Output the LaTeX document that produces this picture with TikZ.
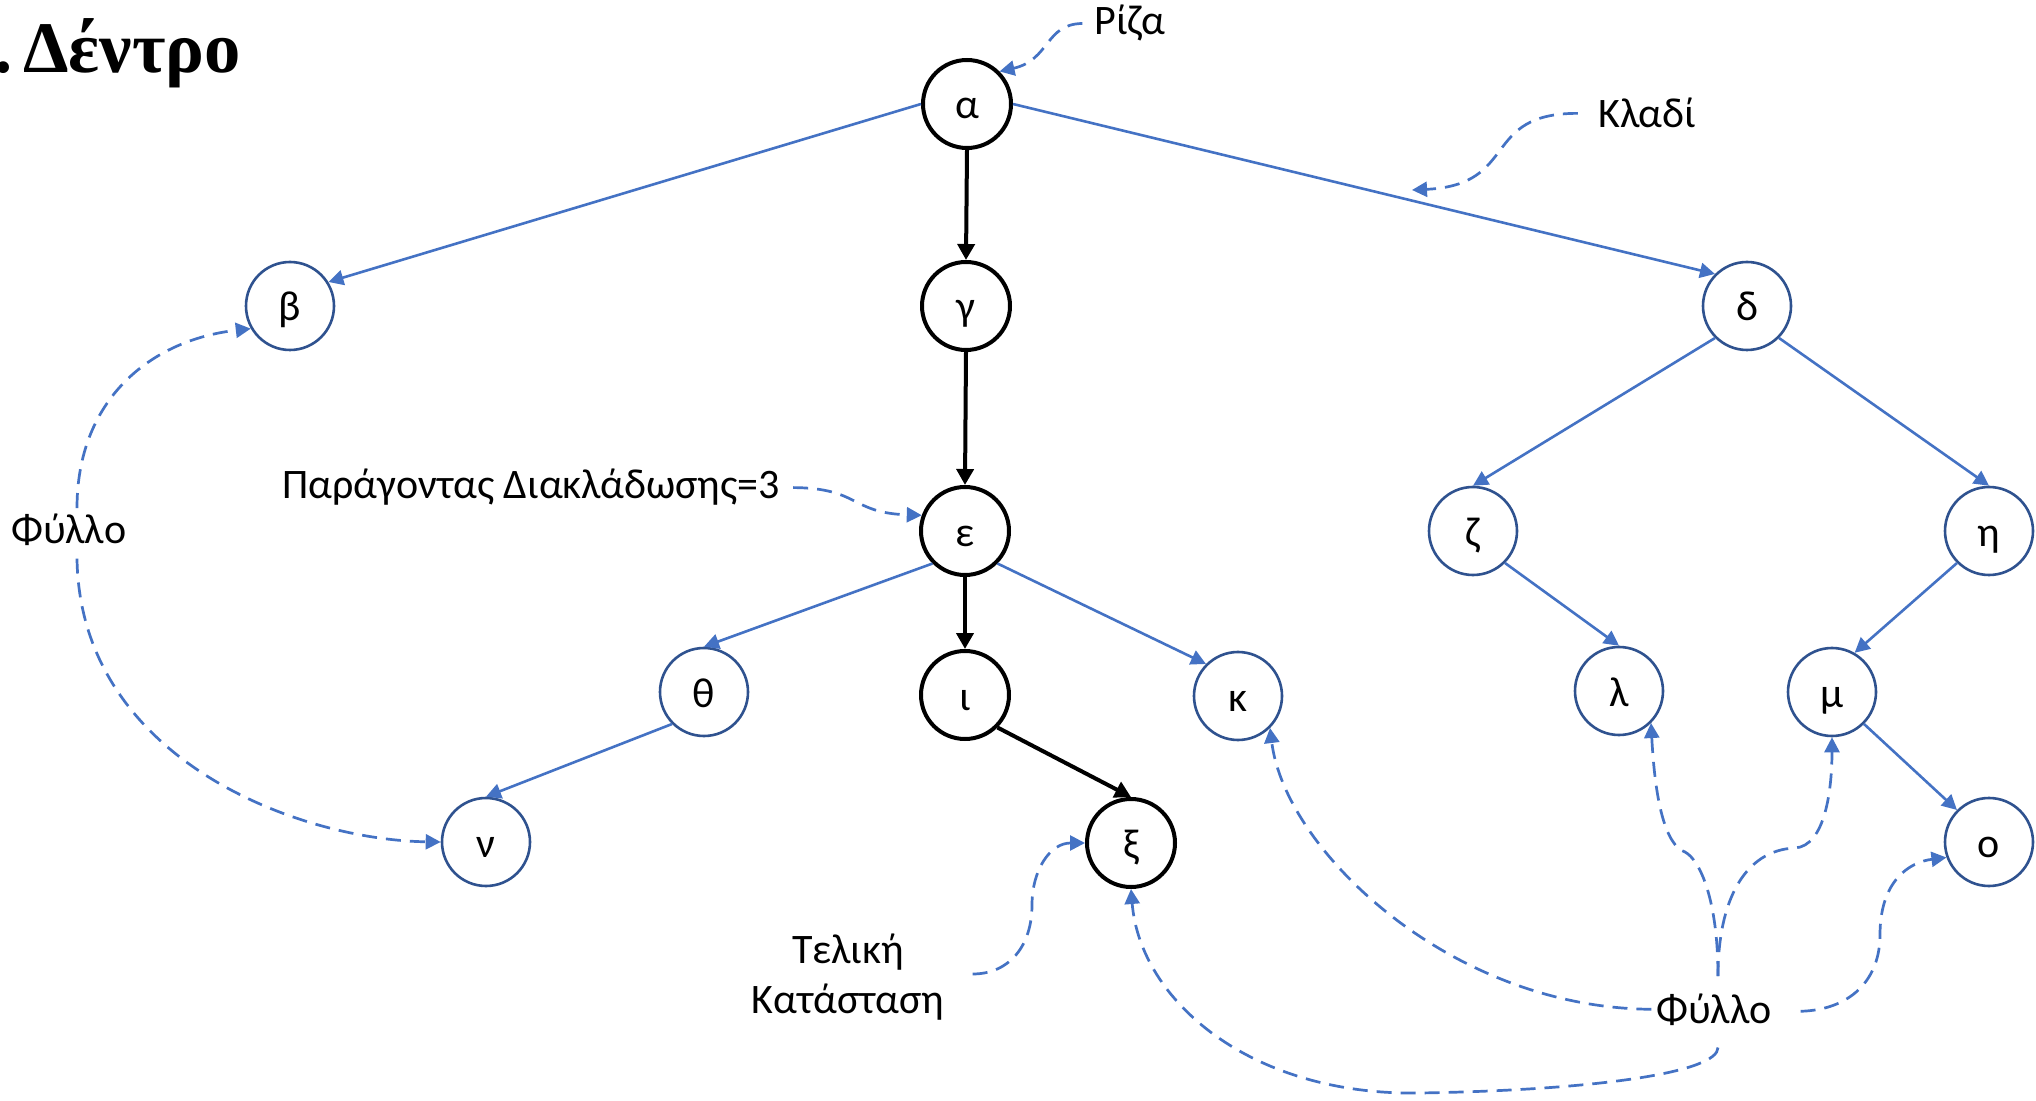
\documentclass[tikz,border=0pt]{standalone}
\usepackage{fontspec}
\setmainfont{Carlito}
\newfontfamily\titlefont{Liberation Serif}
\usetikzlibrary{arrows.meta,calc}
\definecolor{edgeblue}{HTML}{4472C4}
\definecolor{ringblue}{HTML}{2F528F}

\begin{document}
\begin{tikzpicture}[x=0.5pt,y=-0.5pt,
  every node/.style={font=\fontsize{21pt}{25.2pt}\selectfont},
  vertex/.style={circle, draw=ringblue, line width=1.3pt, minimum size=44pt,
    inner sep=0pt, text height=15pt, text depth=0pt},
  pathvertex/.style={vertex, draw=black, line width=2pt},
  branch/.style={draw=edgeblue, line width=1.3pt, -{Triangle[length=7.5pt,width=7.5pt]}},
  pathbranch/.style={draw=black, line width=2pt, -{Triangle[length=8pt,width=8.5pt]}},
  notearrow/.style={draw=edgeblue, line width=1.35pt, dash pattern=on 7.5pt off 4.5pt,
    -{Triangle[length=7.5pt,width=7.5pt]}},
  notetext/.style={inner sep=0pt, anchor=base},
]
% canvas
\fill[white] (0,0) rectangle (2036,1101);
\useasboundingbox (0,0) rectangle (2036,1101);

% heading
\node[inner sep=0pt, anchor=base west,
      font=\titlefont\bfseries\fontsize{36.3pt}{42pt}\selectfont] (title) at (23,73)
      {\llap{.\kern0.15em}Δέντρο};

% tree nodes
\node[pathvertex] (alpha)   at (967,104)  {α};
\node[vertex]     (beta)    at (290,306)  {β};
\node[pathvertex] (gamma)   at (966,306)  {γ};
\node[vertex]     (delta)   at (1747,306) {δ};
\node[pathvertex] (eps)     at (965,531)  {ε};
\node[vertex]     (zeta)    at (1473,531) {ζ};
\node[vertex]     (eta)     at (1989,531) {η};
\node[vertex]     (theta)   at (704,692)  {θ};
\node[pathvertex] (iota)    at (965,695)  {ι};
\node[vertex]     (kappa)   at (1238,696) {κ};
\node[vertex]     (lambda)  at (1619,691) {λ};
\node[vertex]     (mu)      at (1832,692) {μ};
\node[vertex]     (nu)      at (486,842)  {ν};
\node[pathvertex] (xi)      at (1131,843) {ξ};
\node[vertex]     (omicron) at (1989,842) {ο};

% branches
\draw[branch]     (alpha.west)       -- (beta.32);
\draw[pathbranch] (alpha.south)      -- (gamma.north);
\draw[branch]     (alpha.east)       -- (delta.north west);
\draw[pathbranch] (gamma.south)      -- (eps.north);
\draw[branch]     (delta.south west) -- (zeta.north);
\draw[branch]     (delta.south east) -- (eta.north);
\draw[branch]     (eps.south west)   -- (theta.north);
\draw[pathbranch] (eps.south)        -- (iota.north);
\draw[branch]     (eps.south east)   -- (kappa.north west);
\draw[branch]     (zeta.south east)  -- (lambda.north);
\draw[branch]     (eta.south west)   -- (mu.60);
\draw[branch]     (theta.south west) -- (nu.north);
\draw[pathbranch] (iota.south east)  -- (xi.north);
\draw[branch]     (mu.south east)    -- (omicron.north west);

% annotations
\node[notetext] (riza)   at (1130,35)  {Ρίζα};
\node[notetext] (kladi)  at (1647,128) {Κλαδί};
\node[notetext] (factor) at (531,499)  {Παράγοντας Διακλάδωσης=3};
\node[inner sep=0pt, align=center] (goal) at (848,977) {Τελική\\Κατάσταση};
\node[notetext] (leaf1)  at (69,544)   {Φύλλο};
\node[notetext] (leaf2)  at (1714,1023) {Φύλλο};
\coordinate (branchmark) at (1412,190);

\draw[notearrow] ($(riza.west)+(-12,0)$) .. controls (1045,24) and (1050,60) .. (alpha.north east);
\draw[notearrow] ($(kladi.west)+(-20,0)$) .. controls (1480,113) and (1520,185) .. (branchmark);
\draw[notearrow] ($(factor.east)+(13,0)$) .. controls (860,488) and (850,513) .. (eps.160);
\draw[notearrow] ($(goal.east)+(28,-3)$) .. controls (1010,974) and (1032,945) .. (1032,905)
                 .. controls (1032,870) and (1050,843) .. (xi.west);

\draw[notearrow] ($(leaf1.north)+(8,-6)$) .. controls (77,400) and (150,340) .. (beta.210);
\draw[notearrow] ($(leaf1.south)+(8,12)$) .. controls (80,760) and (300,840) .. (nu.west);

\draw[notearrow] ($(leaf2.north)+(4,-17)$) .. controls (1718,900) and (1700,860) .. (1685,852)
                 .. controls (1665,845) and (1655,800) .. (lambda.south east);
\draw[notearrow] ($(leaf2.north)+(4,-17)$) .. controls (1718,900) and (1745,850) .. (1795,848)
                 .. controls (1825,846) and (1832,790) .. (mu.south);
\draw[notearrow] ($(leaf2.east)+(29,2)$) .. controls (1850,1010) and (1880,980) .. (1880,935)
                 .. controls (1880,880) and (1910,862) .. (omicron.200);
\draw[notearrow] ($(leaf2.west)+(-5,0)$) .. controls (1450,1008) and (1285,850) .. (kappa.south east);
\draw[notearrow] ($(leaf2.south)+(4,22)$) .. controls (1718,1072) and (1600,1090) .. (1420,1093)
                 .. controls (1250,1096) and (1140,1000) .. (xi.south);
\end{tikzpicture}
\end{document}
